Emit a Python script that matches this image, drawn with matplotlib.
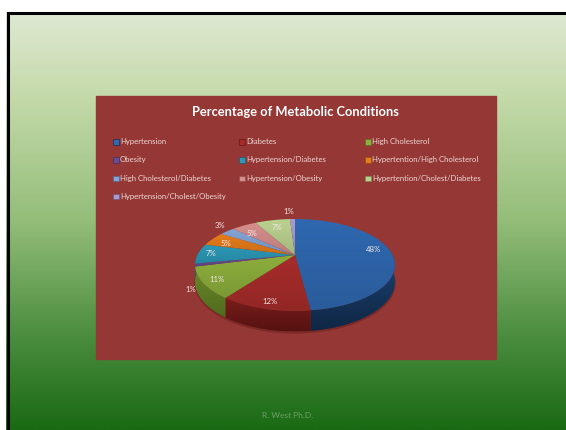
import numpy as np
import matplotlib
matplotlib.use('Agg')
import matplotlib.pyplot as plt
from matplotlib.colors import LinearSegmentedColormap, to_hex, to_rgb
from matplotlib.patches import Polygon, Rectangle

plt.rcParams['font.family'] = ['Lato', 'DejaVu Sans']

# dados
condicoes = ['Hypertension', 'Diabetes', 'High Cholesterol',
             'Obesity', 'Hypertension/Diabetes', 'Hypertention/High Cholesterol',
             'High Cholesterol/Diabetes', 'Hypertension/Obesity', 'Hypertention/Cholest/Diabetes',
             'Hypertension/Cholest/Obesity']
percentuais = [48, 12, 11, 1, 7, 5, 3, 5, 7, 1]
cores = ['#2f68b0', '#a62c2a', '#8cae3c', '#6a4a92', '#2b98b6',
         '#e67c1a', '#84a4d6', '#d68e8c', '#bad290', '#a99bcc']
cores_escuras = ['#0f2744', '#561210', '#506b1e', '#3a2660', '#15566a',
                 '#8a4608', '#4a6490', '#8a4a48', '#76884c', '#625580']

W, H = 566, 430
fig = plt.figure(figsize=(W / 100, H / 100), dpi=100)
ax = fig.add_axes([0, 0, 1, 1])
ax.set_xlim(0, W)
ax.set_ylim(H, 0)
ax.axis('off')

# fundo do slide
ax.add_patch(Rectangle((0, 0), W, H, color='white', zorder=0))
fundo = LinearSegmentedColormap.from_list('fundo', [
    (0.00, '#dfe9d2'), (0.21, '#c3d9a8'), (0.50, '#93bd79'),
    (0.80, '#45893a'), (1.00, '#1a6a14')])
ax.imshow(np.linspace(0, 1, 256).reshape(-1, 1), cmap=fundo, aspect='auto',
          extent=(6, W, H, 12), zorder=1)
ax.plot([7.5, 7.5, W], [H, 13, 13], color='black', lw=2.2, zorder=2, solid_joinstyle='miter')

# painel do grafico
ax.add_patch(Rectangle((96, 96), 400, 263, color='#953735', zorder=3))
ax.text(295.5, 112, 'Percentage of Metabolic Conditions', color='white', fontsize=9.25,
        fontweight='bold', ha='center', va='center', zorder=10)

# legenda
col_x = [113, 239, 365]
lin_y = [141.5, 159.5, 178, 196]
for i, nome in enumerate(condicoes):
    x = col_x[i % 3]
    y = lin_y[i // 3]
    ax.add_patch(Rectangle((x, y - 2.5), 5.5, 5.5, facecolor=cores[i], edgecolor=cores_escuras[i], lw=0.4, zorder=10))
    ax.text(x + 7, y, nome, color='#ecd9d8', fontsize=5.6, ha='left', va='center', zorder=10)

# pizza em perspectiva
cx, cy, rx, ky, d = 295, 255, 97.5, 43.8, 4.6
prof = 16


def projeta(ang, r=1.0, base=False):
    # ang em graus, horario a partir do topo
    u = r * np.sin(np.radians(ang))
    v = -r * np.cos(np.radians(ang))
    s = d / (d - v)
    x = cx + rx * u * s
    y = cy + ky * v * s
    if base:
        y = y + prof * s
    return x, y


def preenche(xs, ys, c1, c2, z, horizontal=False):
    # poligono com gradiente recortado
    mapa = LinearSegmentedColormap.from_list('g', [c1, c2])
    grad = np.linspace(0, 1, 64)
    grad = grad.reshape(1, -1) if horizontal else grad.reshape(-1, 1)
    img = ax.imshow(grad, cmap=mapa, aspect='auto', zorder=z,
                    extent=(min(xs), max(xs), max(ys), min(ys)))
    img.set_clip_path(Polygon(np.column_stack([xs, ys]), transform=ax.transData))


limites = np.concatenate([[0], np.cumsum(percentuais)]) * 3.6

# sombra leve
ang = np.linspace(0, 360, 200)
xb, yb = projeta(ang, base=True)
ax.fill(xb, yb + 1.5, color='#7c2a28', zorder=4)

# laterais visiveis
for i, (a0, a1) in enumerate(zip(limites[:-1], limites[1:])):
    a_ini = max(a0, 90 - 8)
    a_fim = min(a1, 270 + 8)
    if a_fim <= a_ini:
        continue
    ang = np.linspace(a_ini, a_fim, 60)
    x1, y1 = projeta(ang)
    x2, y2 = projeta(ang, base=True)
    xs = np.concatenate([x1, x2[::-1]])
    ys = np.concatenate([y1, y2[::-1]])
    preenche(xs, ys, cores[i], cores_escuras[i], 5)
    ax.fill(xs, ys, color=cores_escuras[i], alpha=0.55, lw=0, zorder=5.1)

# topo
for i, (a0, a1) in enumerate(zip(limites[:-1], limites[1:])):
    ang = np.linspace(a0, a1, 80)
    x1, y1 = projeta(ang)
    xs = np.concatenate([[cx], x1])
    ys = np.concatenate([[cy], y1])
    preenche(xs, ys, cores[i], to_hex(np.array(to_rgb(cores[i])) * 0.88), 6)

# rotulos
rot_x = [374, 270, 217, 191, 211, 226, 220, 252, 277, 289]
rot_y = [250, 301, 280, 290, 254, 243, 226, 233, 227, 212]
for x, y, p in zip(rot_x, rot_y, percentuais):
    ax.text(x, y, f'{p}%', color='#f2e6e6', fontsize=5.6, ha='center', va='center', zorder=10)

# rodape
ax.text(288, 415, 'R. West Ph.D.', color='#6f9f68', fontsize=6, ha='center', va='center', zorder=10)

fig.savefig('out.png', dpi=100)
